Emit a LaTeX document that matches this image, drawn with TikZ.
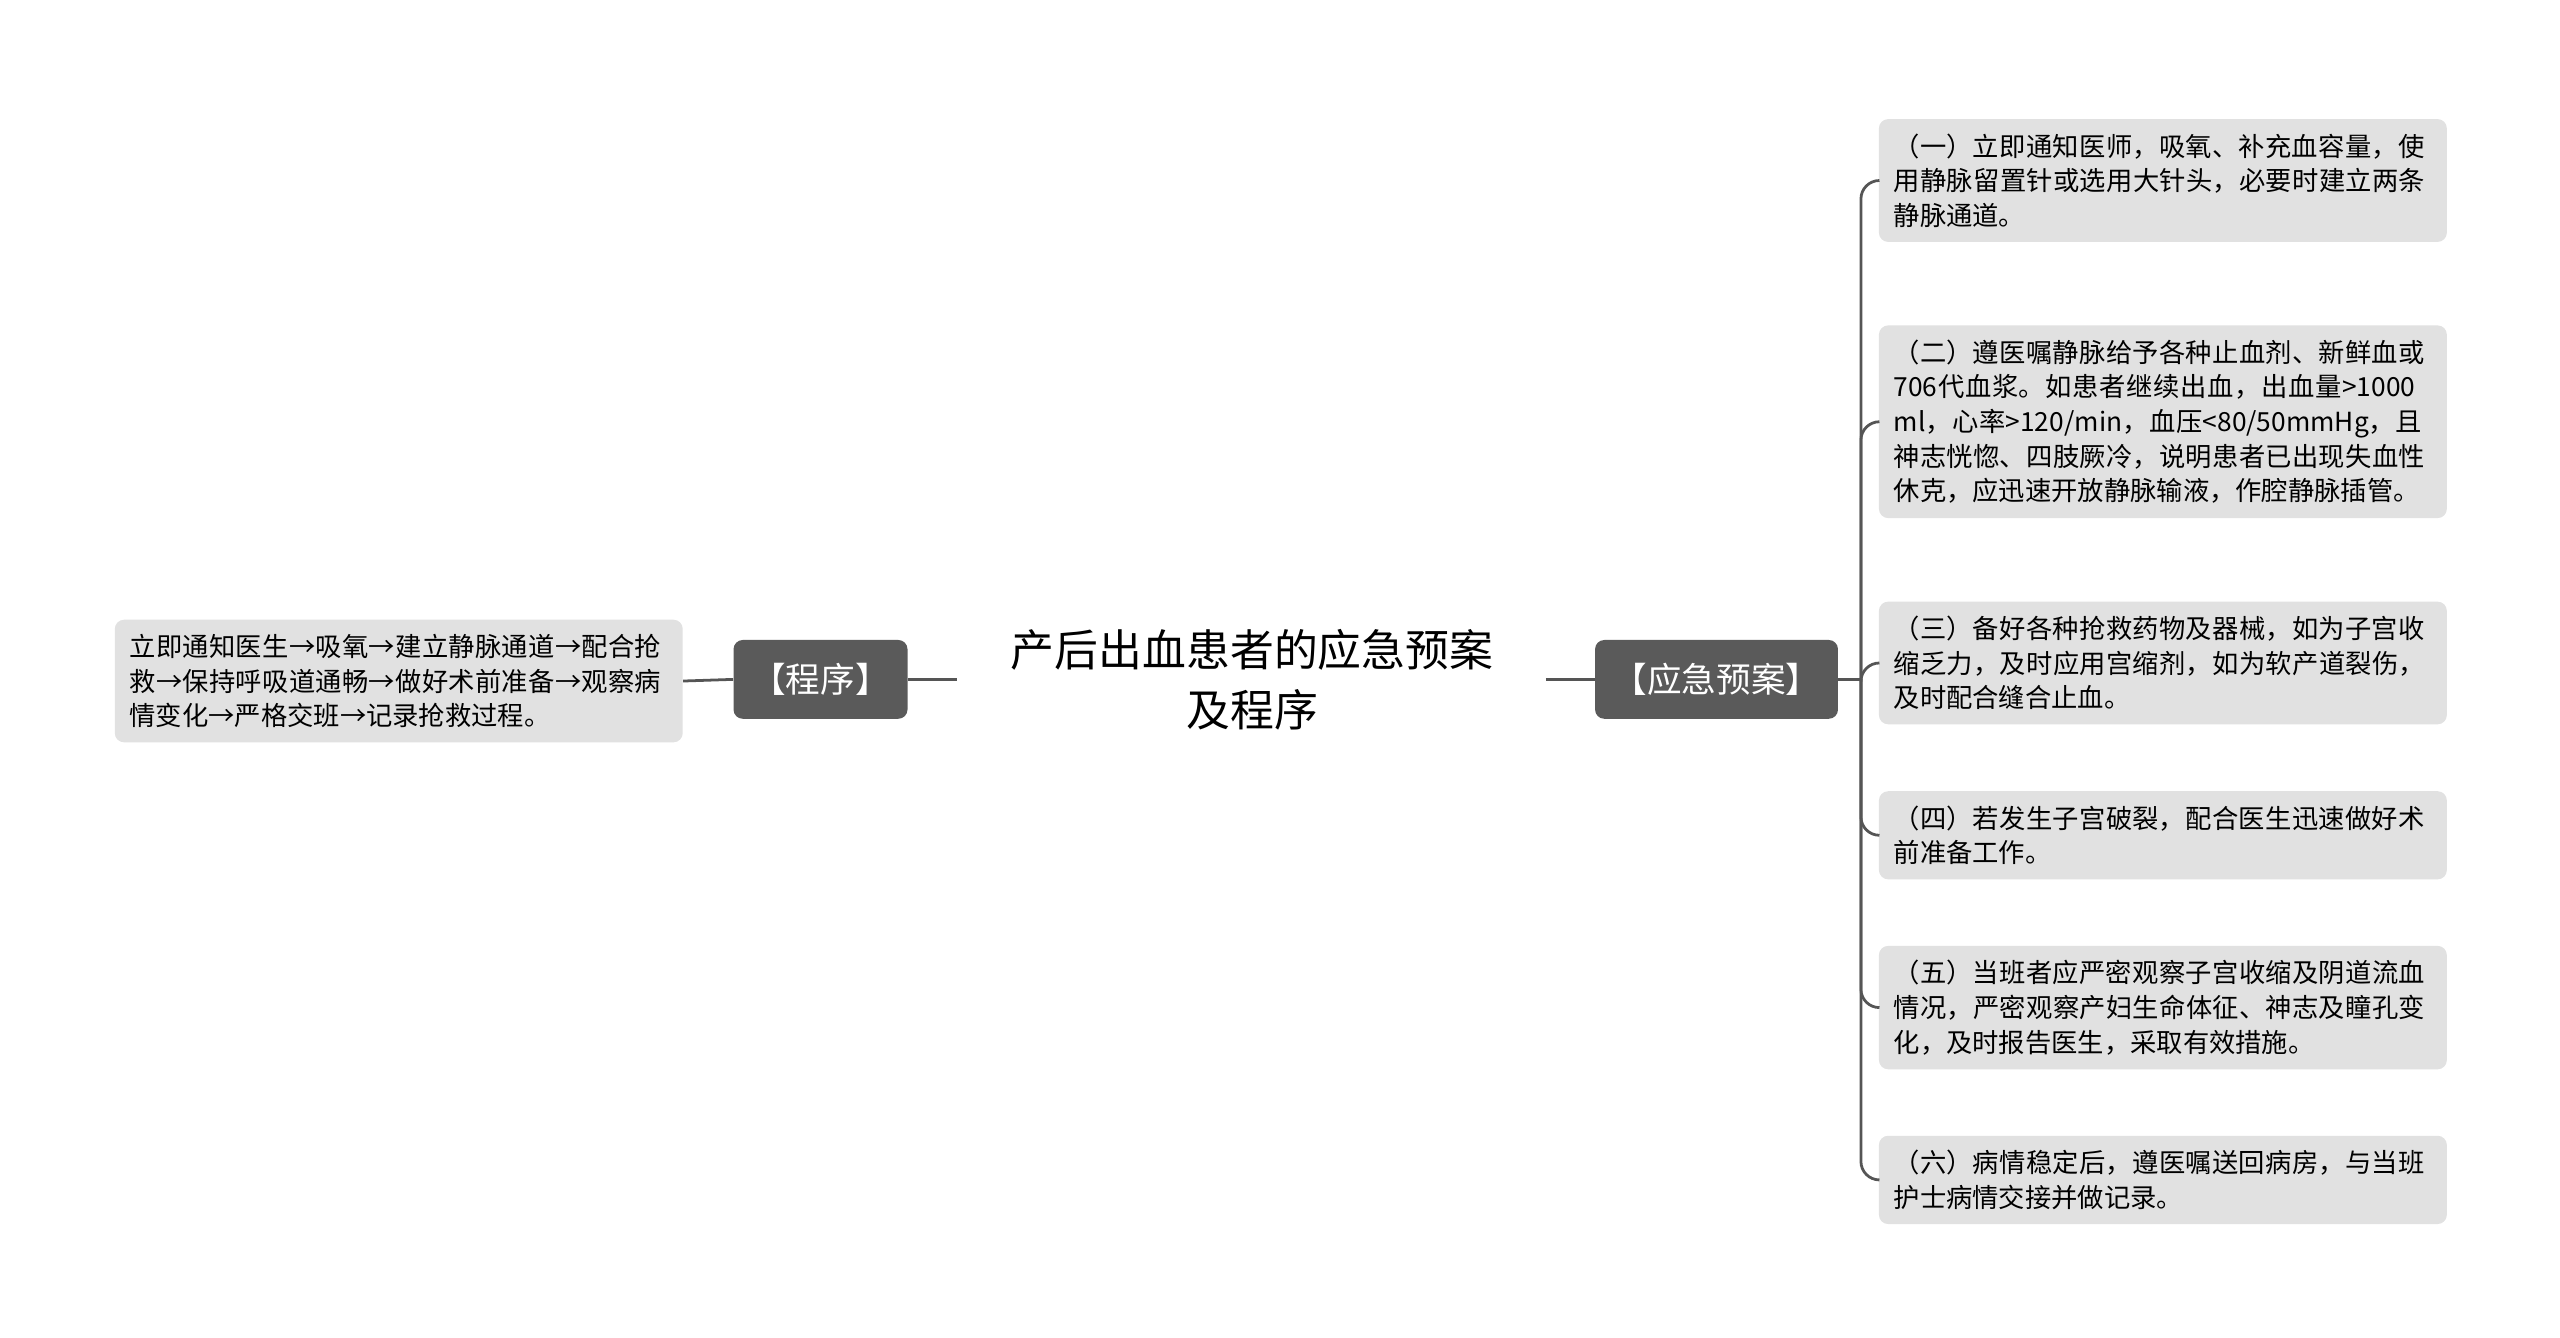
\documentclass[tikz,border=0pt]{standalone}
\usepackage{fontspec}
\setmainfont{Noto Sans CJK SC}
\XeTeXlinebreaklocale "zh"
\XeTeXlinebreakskip = 0pt plus 1pt
\usetikzlibrary{positioning}
\definecolor{darkbox}{HTML}{5A5A5A}
\definecolor{lightbox}{HTML}{E1E1E1}
\definecolor{linecol}{HTML}{555555}
\tikzset{
  topic/.style={fill=darkbox, rounded corners=4pt, text=white, font=\fontsize{15}{18}\selectfont, minimum height=1.2cm, inner xsep=6pt},
  leaf/.style={fill=lightbox, rounded corners=4pt, font=\fontsize{11.4}{15}\selectfont, text width=8.2cm, align=left, inner xsep=0.225cm, inner ysep=0.22cm},
  link/.style={draw=linecol, line width=1.2pt}
}
\begin{document}
\begin{tikzpicture}[x=0.025cm, y=-0.025cm]
	\useasboundingbox (0,0) rectangle (1560,815);
	
	%center
	\node[font=\fontsize{19}{26}\selectfont, align=center] (root) at (763,414) {产后出血患者的应急预案\\及程序};
	
	%left branch
	\node[topic, minimum width=2.65cm] (cx) at (500,414) {【程序】};
	\node[leaf] (cx1) at (243,415) {立即通知医生→吸氧→建立静脉通道→配合抢救→保持呼吸道通畅→做好术前准备→观察病情变化→严格交班→记录抢救过程。};
	
	%right branch
	\node[topic, minimum width=3.7cm] (ya) at (1046,414) {【应急预案】};
	\node[leaf] (ya1) at (1318,110) {（一）立即通知医师，吸氧、补充血容量，使用静脉留置针或选用大针头，必要时建立两条静脉通道。};
	\node[leaf] (ya2) at (1318,257) {（二）遵医嘱静脉给予各种止血剂、新鲜血或706代血浆。如患者继续出血，出血量>1000 ml，心率>120/min，血压<80/50mmHg，且神志恍惚、四肢厥冷，说明患者已出现失血性休克，应迅速开放静脉输液，作腔静脉插管。};
	\node[leaf] (ya3) at (1318,404) {（三）备好各种抢救药物及器械，如为子宫收缩乏力，及时应用宫缩剂，如为软产道裂伤，及时配合缝合止血。};
	\node[leaf] (ya4) at (1318,509) {（四）若发生子宫破裂，配合医生迅速做好术前准备工作。};
	\node[leaf] (ya5) at (1318,614) {（五）当班者应严密观察子宫收缩及阴道流血情况，严密观察产妇生命体征、神志及瞳孔变化，及时报告医生，采取有效措施。};
	\node[leaf] (ya6) at (1318,719) {（六）病情稳定后，遵医嘱送回病房，与当班护士病情交接并做记录。};
	
	%connectors
	\coordinate (rootw) at (583,414);
	\coordinate (roote) at (942,414);
	\coordinate (trunk) at (1134,414);
	\draw[link] (rootw) -- (cx.east);
	\draw[link] (cx.west) -- (cx1.east);
	\draw[link] (roote) -- (ya.west);
	\draw[link] (ya.east) -- (trunk);
	\foreach \i in {1,...,6}
		\draw[link, rounded corners=8pt] (trunk) |- (ya\i.west);
\end{tikzpicture}
\end{document}
